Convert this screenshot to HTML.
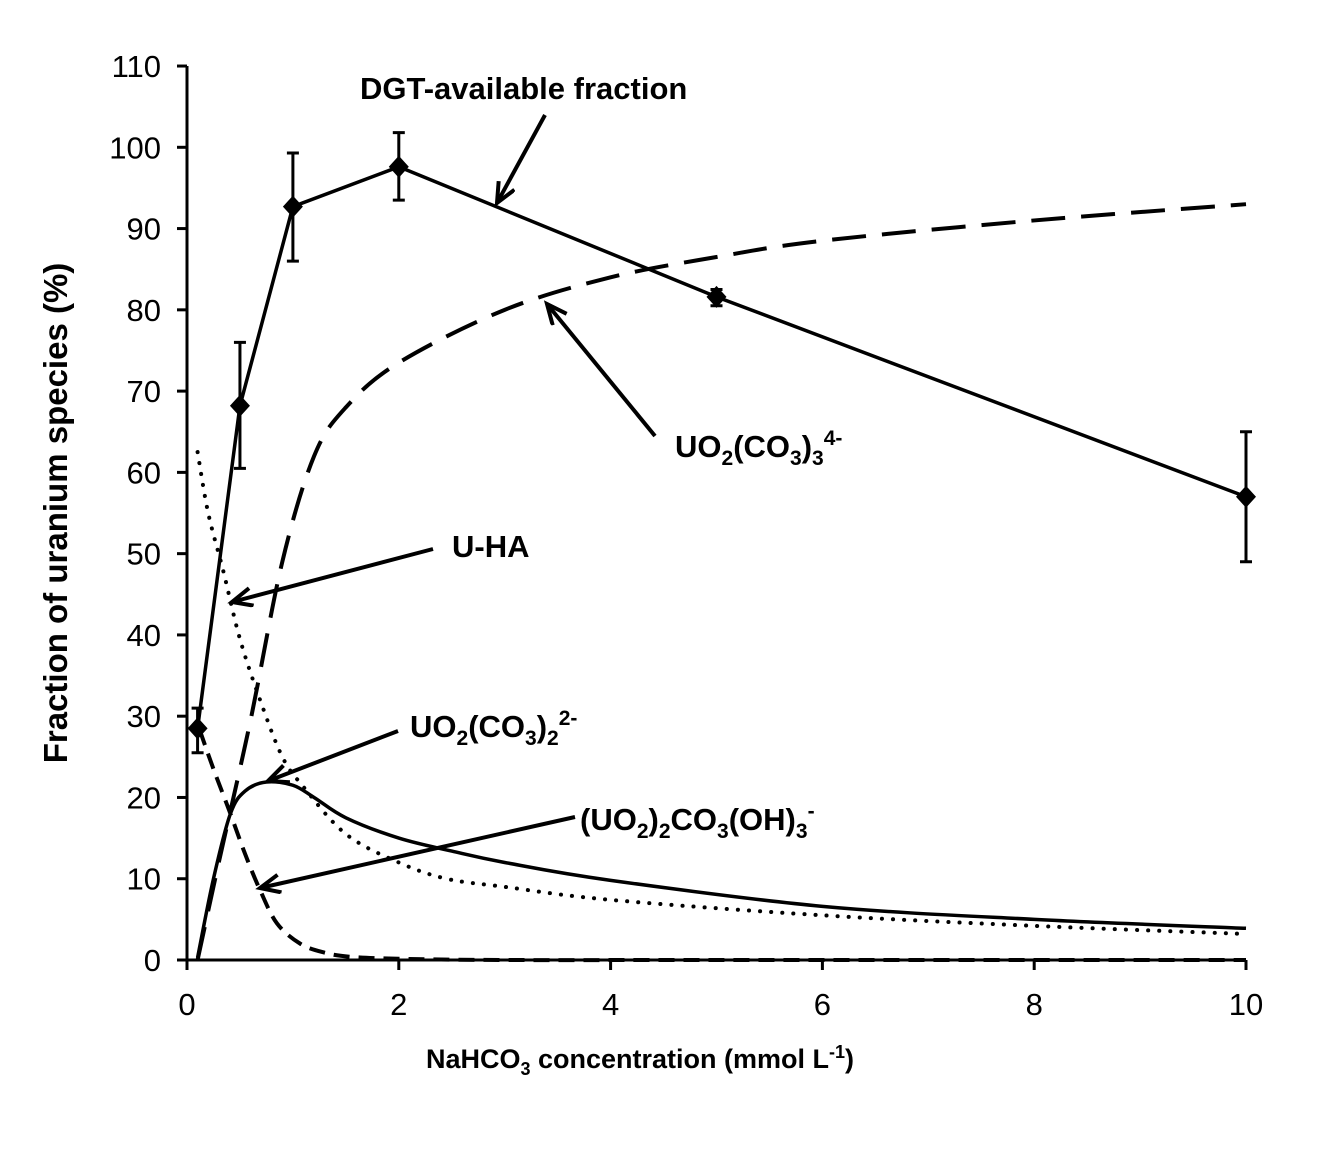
<!DOCTYPE html>
<html><head><meta charset="utf-8"><style>
html,body{margin:0;padding:0;background:#fff;}
svg text{font-family:"Liberation Sans",Arial,sans-serif;}
</style></head><body>
<svg id="chart" width="1320" height="1147" viewBox="0 0 1320 1147" xmlns="http://www.w3.org/2000/svg">
<defs>
<marker id="ah" markerWidth="30" markerHeight="30" refX="21" refY="10" orient="auto" markerUnits="userSpaceOnUse">
<path d="M1,1 L21,10 L1,19" fill="none" stroke="#000" stroke-width="4"/>
</marker>
</defs>
<g id="axes"></g>
<g id="series"></g>
<g id="labels">
<text x="360" y="99" font-size="31" font-weight="bold">DGT-available fraction</text>
<text x="675" y="457" font-size="31" font-weight="bold">UO<tspan font-size="21" dy="8">2</tspan><tspan dy="-8">(CO</tspan><tspan font-size="21" dy="8">3</tspan><tspan dy="-8">)</tspan><tspan font-size="21" dy="8">3</tspan><tspan font-size="21" dy="-20">4-</tspan></text>
<text x="452" y="557" font-size="31" font-weight="bold">U-HA</text>
<text x="410" y="737" font-size="31" font-weight="bold">UO<tspan font-size="21" dy="8">2</tspan><tspan dy="-8">(CO</tspan><tspan font-size="21" dy="8">3</tspan><tspan dy="-8">)</tspan><tspan font-size="21" dy="8">2</tspan><tspan font-size="21" dy="-20">2-</tspan></text>
<text x="580" y="830" font-size="31" font-weight="bold">(UO<tspan font-size="21" dy="8">2</tspan><tspan dy="-8">)</tspan><tspan font-size="21" dy="8">2</tspan><tspan dy="-8">CO</tspan><tspan font-size="21" dy="8">3</tspan><tspan dy="-8">(OH)</tspan><tspan font-size="21" dy="8">3</tspan><tspan font-size="21" dy="-20">-</tspan></text>
<line x1="545" y1="115" x2="497" y2="203" stroke="#000" stroke-width="4" marker-end="url(#ah)"/>
<line x1="655" y1="436" x2="547" y2="304" stroke="#000" stroke-width="4" marker-end="url(#ah)"/>
<line x1="433" y1="549" x2="232" y2="602" stroke="#000" stroke-width="4" marker-end="url(#ah)"/>
<line x1="398" y1="731" x2="268" y2="781" stroke="#000" stroke-width="4" marker-end="url(#ah)"/>
<line x1="575" y1="817" x2="260" y2="888" stroke="#000" stroke-width="4" marker-end="url(#ah)"/>
<text transform="translate(67,513) rotate(-90)" text-anchor="middle" font-size="33" font-weight="bold">Fraction of uranium species (%)</text>
<text x="640" y="1068" text-anchor="middle" font-size="27" font-weight="bold">NaHCO<tspan font-size="18" dy="7">3</tspan><tspan dy="-7"> concentration (mmol L</tspan><tspan font-size="18" dy="-10">-1</tspan><tspan dy="10">)</tspan></text>
</g>
</svg>
<script>
const xTicks=[0,2,4,6,8,10];
const yTicks=[0,10,20,30,40,50,60,70,80,90,100,110];
const dgtX=[0.1,0.5,1,2,5,10];
const dgtY=[28.5,68.2,92.7,97.6,81.6,57];
const dgtErrLo=[25.5,60.5,86,93.5,80.5,49];
const dgtErrHi=[31,76,99.3,101.8,82.5,65];
const tricarbX=[0.1,0.3,0.6,0.9,1.2,1.5,2,3,4,5,6,8,10];
const tricarbY=[0,12,29.5,49,62,68,73.5,80,84,86.5,88.5,91,93];
const dicarbX=[0.1,0.25,0.41,0.55,0.75,1,1.2,1.5,2,2.5,3,4,6,8,10];
const dicarbY=[0.3,10,18,20.8,21.9,21.5,20,17.5,15,13.4,12,9.8,6.6,5,3.9];
const uhaX=[0.1,0.2,0.34,0.5,0.69,0.9,1.1,1.5,2,2.45,3,4,6,8,10];
const uhaY=[62.5,55,48,39.5,32,25,21.3,15.5,12,10,9,7.4,5.5,4.2,3.2];
const hydX=[0.12,0.25,0.41,0.55,0.69,0.85,1.07,1.3,1.54,2,3,5,10];
const hydY=[28.3,23.5,18,13,8.6,4.5,2,0.9,0.4,0.15,0,0,0];
const X=v=>187+v*105.9;
const Y=v=>960-v*8.127;
const NS='http://www.w3.org/2000/svg';
function mk(tag,attrs,parent){const e=document.createElementNS(NS,tag);for(const k in attrs)e.setAttribute(k,attrs[k]);parent.appendChild(e);return e;}
const ax=document.getElementById('axes'),se=document.getElementById('series');
let a=mk('line',{x1:X(0),y1:Y(0),x2:X(0),y2:Y(110),stroke:'#000','stroke-width':3},ax);


a=mk('line',{x1:X(0),y1:Y(0),x2:X(10),y2:Y(0),stroke:'#000','stroke-width':3},ax);


yTicks.forEach(t=>{const l=mk('line',{x1:X(0)-10,y1:Y(t),x2:X(0),y2:Y(t),stroke:'#000','stroke-width':3},ax);


const tx=mk('text',{x:X(0)-26,y:Y(t)+11,'text-anchor':'end','font-size':31},ax);tx.textContent=t;

});
xTicks.forEach(t=>{const l=mk('line',{x1:X(t),y1:Y(0),x2:X(t),y2:Y(0)+10,stroke:'#000','stroke-width':3},ax);


const tx=mk('text',{x:X(t),y:Y(0)+55,'text-anchor':'middle','font-size':31},ax);tx.textContent=t;

});
function smooth(xs,ys){const p=xs.map((x,i)=>[X(x),Y(ys[i])]);let d='M'+p[0][0]+','+p[0][1];
for(let i=0;i<p.length-1;i++){const p0=p[i-1]||p[i],p1=p[i],p2=p[i+1],p3=p[i+2]||p2;
d+=' C'+(p1[0]+(p2[0]-p0[0])/6)+','+(p1[1]+(p2[1]-p0[1])/6)+' '+(p2[0]-(p3[0]-p1[0])/6)+','+(p2[1]-(p3[1]-p1[1])/6)+' '+p2[0]+','+p2[1];}return d;}
let s=mk('path',{d:smooth(tricarbX,tricarbY),fill:'none',stroke:'#000','stroke-width':4,'stroke-dasharray':'34,16'},se);


s=mk('path',{d:smooth(dicarbX,dicarbY),fill:'none',stroke:'#000','stroke-width':3.5},se);


s=mk('path',{d:smooth(uhaX,uhaY),fill:'none',stroke:'#000','stroke-width':4,'stroke-dasharray':'0.1,11','stroke-linecap':'round'},se);


s=mk('path',{d:smooth(hydX,hydY),fill:'none',stroke:'#000','stroke-width':4,'stroke-dasharray':'16,9'},se);


s=mk('polyline',{points:dgtX.map((x,i)=>X(x)+','+Y(dgtY[i])).join(' '),fill:'none',stroke:'#000','stroke-width':3.5},se);


dgtX.forEach((x,i)=>{const cx=X(x);
const e=mk('path',{d:'M'+cx+','+Y(dgtErrLo[i])+'V'+Y(dgtErrHi[i])+'M'+(cx-6)+','+Y(dgtErrLo[i])+'h12M'+(cx-6)+','+Y(dgtErrHi[i])+'h12',stroke:'#000','stroke-width':3,fill:'none'},se);


const cy=Y(dgtY[i]);
const m=mk('path',{d:'M'+cx+','+(cy-11)+'L'+(cx+10)+','+cy+'L'+cx+','+(cy+11)+'L'+(cx-10)+','+cy+'Z',fill:'#000'},se);

});
</script>
</body></html>
